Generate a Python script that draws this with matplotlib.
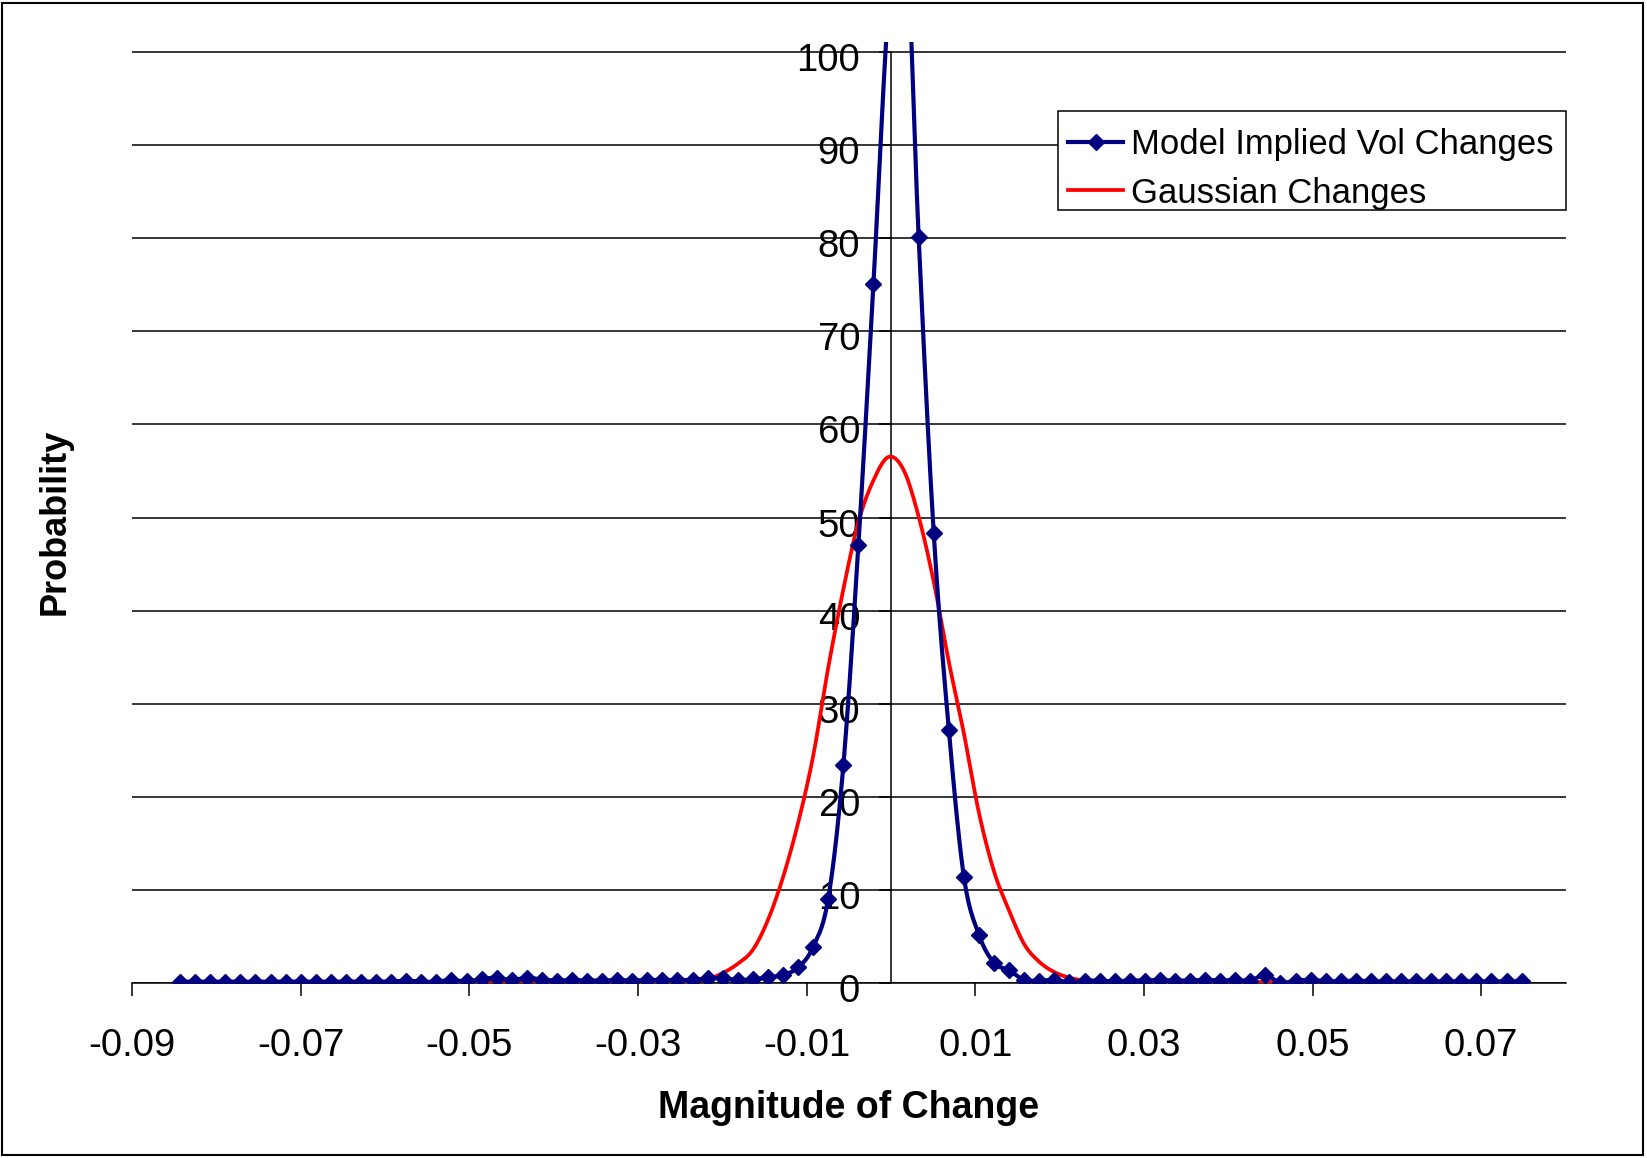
import numpy as np
import matplotlib
matplotlib.use("Agg")
import matplotlib.pyplot as plt
from matplotlib.lines import Line2D
from matplotlib.patches import Rectangle
import matplotlib.transforms as mtransforms

plt.rcParams['font.family'] = ['Liberation Sans', 'DejaVu Sans']
plt.rcParams['axes.unicode_minus'] = False

# Bin centres of the change distribution (90 equal-width bins)
bin_centers = np.round(np.linspace(-0.0843, 0.0748, 90), 5)

# Model implied vol changes: probability density per bin
model_density = [
    0.17, 0.17, 0.17, 0.17, 0.17, 0.17, 0.17, 0.17, 0.17, 0.17,
    0.17, 0.17, 0.17, 0.17, 0.17, 0.30, 0.17, 0.17, 0.35, 0.20,
    0.45, 0.60, 0.35, 0.60, 0.40, 0.30, 0.35, 0.30, 0.30, 0.35,
    0.30, 0.36, 0.36, 0.36, 0.36, 0.54, 0.54, 0.36, 0.43, 0.64,
    0.90, 1.70, 3.90, 9.10, 23.4, 47.0, 75.1, 105.0, 118.0, 80.1,
    48.3, 27.2, 11.4, 5.20, 2.20, 1.40, 0.35, 0.30, 0.35, 0.10,
    0.30, 0.25, 0.20, 0.30, 0.30, 0.35, 0.30, 0.30, 0.35, 0.30,
    0.35, 0.30, 0.90, 0.05, 0.30, 0.35, 0.25, 0.20, 0.30, 0.20,
    0.20, 0.20, 0.20, 0.20, 0.20, 0.20, 0.20, 0.20, 0.20, 0.20,
]

# Gaussian changes: density on bins 18..77
gauss_first_bin = 18
gauss_density = [
    0.05, 0.10, 0.10, 0.15, 0.10, 0.10, 0.15, 0.10, 0.10, 0.15,
    0.10, 0.15, 0.10, 0.15, 0.20, 0.25, 0.25, 0.45, 1.10, 2.10,
    3.60, 6.80, 11.4, 17.2, 24.4, 33.9, 42.3, 49.5, 54.0, 56.5,
    55.1, 50.1, 43.1, 34.5, 26.8, 18.3, 12.0, 7.80, 4.20, 2.30,
    1.20, 0.60, 0.30, 0.20, 0.15, 0.10, 0.10, 0.15, 0.10, 0.10,
    0.15, 0.10, 0.10, 0.10, 0.15, 0.10, 0.10, 0.10, 0.05, 0.05,
]
gauss_x = bin_centers[gauss_first_bin:gauss_first_bin + len(gauss_density)]

x_ticks = [-0.09, -0.07, -0.05, -0.03, -0.01, 0.01, 0.03, 0.05, 0.07]
y_ticks = [0, 10, 20, 30, 40, 50, 60, 70, 80, 90, 100]

series_labels = ["Model Implied Vol Changes", "Gaussian Changes"]
x_title = "Magnitude of Change"
y_title = "Probability"

NAVY = "#000080"
RED = "#FF0000"


def smooth_curve(x, y, steps=16):
    """Piecewise cubic Bezier through the points (Catmull-Rom style)."""
    x = np.asarray(x, float)
    y = np.asarray(y, float)
    px = np.concatenate([[x[0]], x, [x[-1]]])
    py = np.concatenate([[y[0]], y, [y[-1]]])
    t = np.linspace(0, 1, steps, endpoint=False)[:, None]
    pts = []
    for i in range(len(x) - 1):
        p0 = np.array([px[i], py[i]])
        p1 = np.array([px[i + 1], py[i + 1]])
        p2 = np.array([px[i + 2], py[i + 2]])
        p3 = np.array([px[i + 3], py[i + 3]])
        b1 = p1 + (p2 - p0) / 6.0
        b2 = p2 - (p3 - p1) / 6.0
        seg = ((1 - t) ** 3) * p1 + 3 * ((1 - t) ** 2) * t * b1 \
            + 3 * (1 - t) * t ** 2 * b2 + t ** 3 * p2
        pts.append(seg)
    pts.append(np.array([[x[-1], y[-1]]]))
    pts = np.vstack(pts)
    return pts[:, 0], pts[:, 1]


W, H = 1647, 1158
fig = plt.figure(figsize=(W / 100, H / 100), dpi=100)
ax = fig.add_axes([132 / W, 1 - 983.3 / H, 1433.5 / W, 940.9 / H])

ax.set_xlim(-0.09, 0.08)
ax.set_ylim(0, 101)

gx, gy = smooth_curve(gauss_x, gauss_density)
ax.plot(gx, gy, color=RED, lw=2.7, zorder=3, solid_joinstyle='round')

mx, my = smooth_curve(bin_centers, model_density)
ax.plot(mx, my, color=NAVY, lw=3.0, zorder=4, solid_joinstyle='round')
ax.plot(bin_centers, model_density, linestyle='none', marker='D',
        markersize=8.3, markerfacecolor=NAVY, markeredgecolor=NAVY,
        markeredgewidth=1, zorder=5)

# axes styling
for side in ("top", "right"):
    ax.spines[side].set_visible(False)
ax.spines['left'].set_position(('data', 0))
ax.spines['left'].set_bounds(0, 100)
for side in ("left", "bottom"):
    ax.spines[side].set_linewidth(1.1)
    ax.spines[side].set_color("black")
    ax.spines[side].set_zorder(2.5)

ax.set_xticks(x_ticks)
ax.set_xticklabels([f"{v:.2f}" for v in x_ticks])
ax.set_yticks(y_ticks)
ax.set_yticklabels([str(v) for v in y_ticks])
ax.tick_params(axis='x', direction='out', length=9.4, width=1.1,
               pad=23, labelsize=27.5, colors='black')
ax.tick_params(axis='y', direction='out', length=8.6, width=1.1,
               pad=13.5, labelsize=27.5, colors='black')

offset = mtransforms.ScaledTranslation(0, -5 / 100, fig.dpi_scale_trans)
for lab in ax.get_yticklabels():
    lab.set_transform(lab.get_transform() + offset)

ax.set_axisbelow(True)
ax.yaxis.grid(True, color='black', linewidth=1.1)
ax.xaxis.grid(False)

fig.text(849 / W, 1 - 1108 / H, x_title, ha='center', va='center',
         fontsize=27, fontweight='bold')
fig.text(55 / W, 1 - 522 / H, y_title, ha='center', va='center',
         rotation=90, fontsize=26, fontweight='bold')

# legend box, drawn in figure pixel coordinates
px_tr = mtransforms.Affine2D().scale(1 / W, -1 / H).translate(0, 1) + fig.transFigure
fig.patches.append(Rectangle((1058, 111), 1566 - 1058, 99, transform=px_tr,
                             facecolor='white', edgecolor='black',
                             linewidth=1.1, zorder=10))
legend_rows = [
    (141.5, 154.0, NAVY, 3.0, 'D'),
    (189.5, 203.0, RED, 2.7, None),
]
for (line_y, base_y, col, lw, mk), label in zip(legend_rows, series_labels):
    fig.lines.append(Line2D([1068, 1123], [line_y, line_y], transform=px_tr,
                            color=col, lw=lw, zorder=11))
    if mk:
        fig.lines.append(Line2D([1095.5], [line_y], transform=px_tr,
                                linestyle='none', marker=mk, markersize=8.3,
                                markerfacecolor=col, markeredgecolor=col,
                                zorder=12))
    fig.text(1131, base_y, label, transform=px_tr, ha='left',
             va='baseline', fontsize=24.9, zorder=12)

# outer chart border
fig.patches.append(Rectangle((2 / W, 3 / H), 1641 / W, 1152 / H,
                             transform=fig.transFigure, fill=False,
                             edgecolor='black', linewidth=1.5))

fig.savefig("out.png", dpi=100)
